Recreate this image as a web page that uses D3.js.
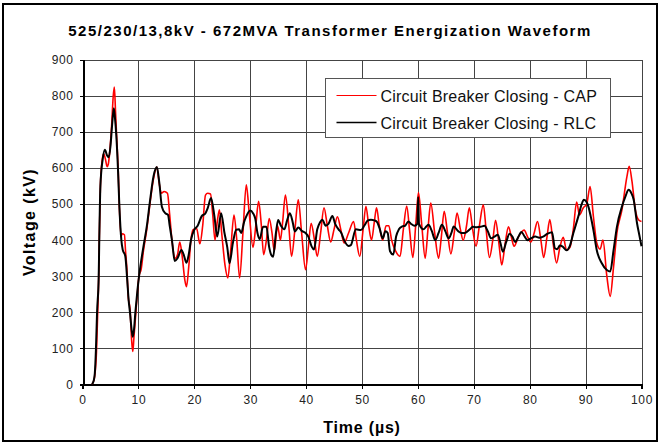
<!DOCTYPE html>
<html>
<head>
<meta charset="utf-8">
<script src="https://cdn.jsdelivr.net/npm/d3@7"></script>
<style>
  body { margin: 0; background: #fff; }
  svg { font-family: Arial, "Liberation Sans", sans-serif; }
  .grid line { stroke: #444; stroke-width: 1; shape-rendering: crispEdges; }
  .axis text { font-size: 12px; fill: #222; letter-spacing: 0.6px; }
  .axis path, .axis line { stroke: #000; shape-rendering: crispEdges; }
</style>
</head>
<body>
<svg id="chart" width="660" height="445"></svg>
<script>
// ========== data

const xTicks = [0, 10, 20, 30, 40, 50, 60, 70, 80, 90, 100];
const yTicks = [0, 100, 200, 300, 400, 500, 600, 700, 800, 900];
const seriesNames = ['Circuit Breaker Closing - CAP', 'Circuit Breaker Closing - RLC'];

// CAP (red)
const capTime = [1.7, 1.9, 2.2, 2.5, 2.7, 2.9, 3.0, 3.2, 3.5, 3.8, 4.1, 4.4, 4.6, 4.9, 5.2, 5.5, 5.7, 5.9, 6.1, 6.4,
  6.6, 6.9, 7.1, 7.5, 7.7, 7.9, 8.2, 8.5, 8.8, 9.0, 9.2, 9.5, 9.8, 10.1, 10.5, 10.9, 11.5, 12.1, 12.7, 13.3,
  13.7, 14.1, 14.6, 15.2, 15.6, 16.0, 16.6, 17.0, 17.4, 17.8, 18.3, 18.6, 19.0, 19.4, 19.8, 20.4, 21.0, 21.5, 22.0, 22.4,
  22.9, 23.3, 23.7, 24.1, 24.5, 24.9, 25.5, 26.0, 26.5, 27.1, 27.6, 28.1, 28.7, 29.3, 29.8, 30.5, 31.0, 31.5, 32.0, 32.4,
  32.9, 33.4, 33.9, 34.3, 34.9, 35.4, 35.8, 36.3, 36.9, 37.4, 38.0, 38.6, 39.2, 39.9, 40.4, 40.9, 41.5, 42.0, 42.6, 43.2,
  43.8, 44.4, 45.0, 45.6, 46.2, 46.8, 47.6, 48.5, 49.0, 49.6, 50.2, 50.7, 51.2, 51.7, 52.2, 52.6, 53.1, 53.7, 54.3, 54.8,
  55.3, 56.0, 56.8, 57.4, 58.0, 58.5, 59.1, 59.6, 60.1, 60.7, 61.3, 61.8, 62.3, 63.0, 63.7, 64.2, 64.7, 65.3, 65.9, 66.5,
  67.0, 67.6, 68.1, 68.7, 69.2, 69.8, 70.4, 71.0, 71.7, 72.2, 72.8, 73.4, 73.9, 74.5, 75.0, 75.6, 76.2, 76.7, 77.2, 78.0,
  79.0, 79.6, 80.2, 80.8, 81.4, 82.0, 82.5, 83.1, 83.6, 84.2, 84.8, 85.4, 86.0, 86.6, 87.2, 87.8, 88.4, 88.9, 89.6, 90.2,
  90.8, 91.4, 92.0, 92.6, 93.1, 93.8, 94.4, 95.0, 95.6, 96.5, 97.4, 97.8, 98.3, 98.9, 99.5, 100];
const capVolt = [0, 5, 25, 90, 190, 300, 400, 550, 620, 640, 625, 604, 610, 650, 715, 800, 825, 760, 690, 590,
  490, 410, 418, 415, 370, 330, 240, 210, 120, 91, 130, 190, 250, 300, 320, 370, 430, 505, 570, 603,
  560, 530, 535, 530, 470, 400, 350, 360, 395, 360, 290, 271, 325, 400, 429, 433, 390, 440, 525, 530,
  528, 470, 400, 450, 484, 420, 330, 295, 370, 470, 400, 295, 420, 554, 480, 380, 440, 508, 440, 360,
  400, 460, 420, 370, 440, 400, 450, 525, 440, 355, 430, 512, 420, 318, 380, 447, 400, 355, 420, 490,
  440, 395, 430, 465, 430, 392, 420, 452, 400, 355, 430, 494, 440, 400, 450, 490, 440, 400, 440, 440,
  400, 370, 355, 430, 495, 430, 352, 440, 532, 440, 350, 430, 503, 420, 350, 410, 480, 420, 362, 420,
  475, 430, 400, 440, 490, 430, 383, 440, 498, 430, 352, 400, 455, 390, 331, 390, 437, 410, 383, 410,
  428, 410, 395, 420, 452, 400, 352, 410, 457, 390, 337, 380, 408, 372, 380, 430, 506, 470, 490, 500,
  549, 465, 392, 375, 400, 300, 244, 326, 420, 484, 577, 605, 563, 484, 456, 452];

// RLC (black)
const rlcTime = [1.7, 2.0, 2.2, 2.4, 2.6, 2.9, 3.0, 3.2, 3.6, 4.0, 4.4, 4.7, 5.0, 5.3, 5.6, 5.8, 6.05, 6.35, 6.6, 6.95,
  7.2, 7.65, 8.0, 8.25, 8.5, 8.8, 9.0, 9.2, 9.45, 9.7, 9.9, 10.35, 10.9, 11.5, 12.1, 12.7, 13.3, 13.75, 14.2, 14.8,
  15.3, 15.6, 16.0, 16.5, 17.0, 17.7, 18.1, 18.6, 19.0, 19.4, 20.0, 20.6, 21.3, 22.0, 22.4, 23.0, 23.6, 24.1, 24.8, 25.4,
  25.9, 26.3, 26.9, 27.5, 28.0, 28.4, 28.9, 29.3, 30.0, 30.5, 30.9, 31.3, 31.7, 32.3, 32.9, 33.4, 33.8, 34.1, 34.6, 35.0,
  35.5, 36.1, 36.6, 37.1, 37.6, 38.0, 38.6, 39.3, 39.9, 40.4, 41.0, 41.4, 42.0, 42.5, 42.9, 43.5, 44.0, 44.7, 45.2, 45.8,
  46.3, 46.8, 47.6, 48.0, 48.9, 49.8, 50.4, 51.0, 51.6, 52.2, 52.7, 53.2, 53.7, 54.2, 54.6, 55.0, 55.6, 56.1, 56.6, 57.2,
  57.7, 58.3, 58.8, 59.4, 59.9, 60.05, 60.2, 61.0, 61.5, 61.9, 62.5, 63.1, 63.7, 64.3, 64.9, 65.5, 66.0, 66.4, 67.2, 67.8,
  68.4, 69.3, 69.8, 70.5, 71.2, 71.9, 72.5, 73.1, 73.7, 74.3, 74.8, 75.2, 75.8, 76.4, 76.9, 77.4, 78.0, 78.5, 79.1, 79.6,
  80.2, 81.0, 81.7, 82.4, 83.2, 84.0, 84.5, 84.9, 85.4, 85.9, 86.6, 87.2, 87.8, 88.7, 89.3, 89.7, 90.2, 90.5, 91.0, 91.4,
  92.0, 92.9, 93.8, 94.4, 95.0, 95.6, 96.5, 97.1, 97.7, 98.2, 98.6, 99.2, 99.6, 100];
const rlcVolt = [0, 10, 30, 95, 198, 299, 400, 549, 623, 651, 635, 630, 660, 720, 766, 740, 690, 595, 493, 400,
  373, 356, 290, 234, 198, 150, 132, 150, 198, 240, 271, 327, 382, 438, 512, 577, 603, 558, 493, 475,
  470, 440, 400, 342, 350, 373, 360, 337, 360, 400, 429, 440, 466, 475, 489, 517, 466, 410, 475, 420,
  380, 336, 392, 429, 430, 420, 450, 466, 482, 475, 460, 420, 403, 437, 437, 380, 358, 354, 420, 456,
  440, 430, 455, 475, 450, 424, 435, 425, 420, 410, 382, 374, 430, 450, 457, 440, 445, 467, 445, 430,
  420, 400, 384, 386, 430, 428, 440, 454, 457, 455, 450, 430, 405, 425, 420, 370, 360, 410, 430, 438,
  440, 452, 445, 440, 445, 520, 445, 430, 438, 443, 425, 400, 420, 443, 425, 405, 420, 438, 425, 420,
  420, 430, 437, 436, 437, 440, 425, 405, 410, 415, 390, 368, 395, 418, 410, 395, 410, 423, 410, 400,
  405, 410, 407, 410, 418, 422, 378, 375, 385, 382, 372, 385, 419, 466, 500, 512, 505, 493, 460, 428,
  372, 336, 317, 313, 372, 437, 493, 520, 540, 530, 512, 447, 415, 383];

// ========== chart

const svg = d3.select('#chart');
const margin = {top: 60, right: 18.5, bottom: 60.7, left: 82.5};
const W = 660, H = 445;

const x = d3.scaleLinear().domain([0, 100]).range([margin.left, W - margin.right]);
const y = d3.scaleLinear().domain([0, 900]).range([H - margin.bottom, margin.top]);

// outer frame
svg.append('rect')
  .attr('x', 3).attr('y', 4).attr('width', 654).attr('height', 437)
  .attr('fill', 'none').attr('stroke', '#000').attr('stroke-width', 2);

// title
svg.append('text')
  .attr('x', 330).attr('y', 36)
  .attr('text-anchor', 'middle')
  .style('font-size', '15px').style('font-weight', 'bold').style('letter-spacing', '1.5px')
  .text('525/230/13,8kV - 672MVA Transformer Energization Waveform');

// grid
const grid = svg.append('g').attr('class', 'grid');
grid.selectAll('.h').data(yTicks.slice(1)).enter().append('line')
  .attr('x1', x(0)).attr('x2', x(100))
  .attr('y1', d => Math.round(y(d)) + 0.5).attr('y2', d => Math.round(y(d)) + 0.5);
grid.selectAll('.v').data(xTicks.slice(1)).enter().append('line')
  .attr('y1', y(0)).attr('y2', y(900))
  .attr('x1', d => Math.round(x(d)) + 0.5).attr('x2', d => Math.round(x(d)) + 0.5);

// axes
svg.append('g').attr('class', 'axis')
  .attr('transform', `translate(0,${Math.round(y(0)) + 0.5})`)
  .call(d3.axisBottom(x).tickValues(xTicks).tickSize(4).tickPadding(7).tickFormat(d3.format('d')));
svg.append('g').attr('class', 'axis')
  .attr('transform', `translate(${Math.round(x(0)) + 0.5},0)`)
  .call(d3.axisLeft(y).tickValues(yTicks).tickSize(4).tickPadding(6).tickFormat(d3.format('d')));
svg.selectAll('.axis .domain').attr('stroke-width', 1.5);

// axis titles
svg.append('text')
  .attr('x', 362).attr('y', 433)
  .attr('text-anchor', 'middle')
  .style('font-size', '16px').style('font-weight', 'bold').style('letter-spacing', '0.8px')
  .text('Time (µs)');
svg.append('text')
  .attr('transform', 'translate(35,222) rotate(-90)')
  .attr('text-anchor', 'middle')
  .style('font-size', '16px').style('font-weight', 'bold').style('letter-spacing', '1.4px')
  .text('Voltage (kV)');

// lines
const line = d3.line().curve(d3.curveMonotoneX).x(d => x(d[0])).y(d => y(d[1]));
const capData = capTime.map((t, i) => [t, capVolt[i]]);
const rlcData = rlcTime.map((t, i) => [t, rlcVolt[i]]);

svg.append('path').datum(capData)
  .attr('d', line).attr('fill', 'none')
  .attr('stroke', '#ff0000').attr('stroke-width', 1.6).attr('stroke-linejoin', 'round');
svg.append('path').datum(rlcData)
  .attr('d', line).attr('fill', 'none')
  .attr('stroke', '#000').attr('stroke-width', 2).attr('stroke-linejoin', 'round');

// legend
const lg = svg.append('g').attr('transform', 'translate(325.5,78.5)');
lg.append('rect').attr('width', 285).attr('height', 59)
  .attr('fill', '#fff').attr('stroke', '#555').attr('stroke-width', 1);
const colors = ['#ff0000', '#000'];
seriesNames.forEach((name, i) => {
  const yy = 17 + i * 27;
  lg.append('line').attr('x1', 11).attr('x2', 51).attr('y1', yy).attr('y2', yy)
    .attr('stroke', colors[i]).attr('stroke-width', i ? 1.6 : 1.2);
  lg.append('text').attr('x', 55).attr('y', yy + 6)
    .style('font-size', '16px').style('fill', '#111').style('letter-spacing', '0.2px')
    .text(name);
});
</script>
</body>
</html>
